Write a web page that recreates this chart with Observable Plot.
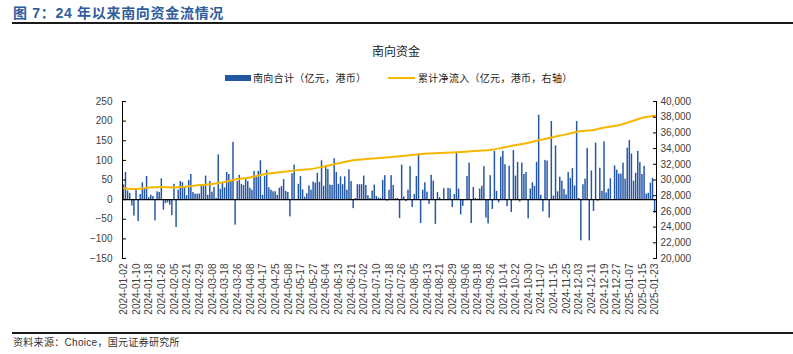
<!DOCTYPE html>
<html>
<head>
<meta charset="utf-8">
<script src="https://cdn.jsdelivr.net/npm/d3@7"></script>
<script src="https://cdn.jsdelivr.net/npm/@observablehq/plot@0.6"></script>
<style>
  body { margin: 0; background: #fff; }
  #wrap { position: relative; width: 793px; height: 354px; overflow: hidden; background: #fff;
          font-family: "Liberation Sans", Arial, "Noto Sans CJK SC", sans-serif; }
  .abs { position: absolute; white-space: nowrap; }
  #title { left: 13px; top: 4px; font: bold 14px "Liberation Sans", "Noto Sans CJK SC", sans-serif; color: #2E5C9E; line-height: 18px; letter-spacing: 0.7px; }
  .hr { position: absolute; left: 12px; width: 781px; height: 2px; background: #1a1a1a; }
  #ctitle { left: 372px; top: 43px; font: 12px "Noto Sans CJK SC", sans-serif; color: #222; line-height: 16px; }
  .leg { top: 71px; font: 10px "Noto Sans CJK SC", sans-serif; color: #222; line-height: 14px; letter-spacing: 0.3px; }
  #caption { left: 13px; top: 336px; font: 10px "Liberation Sans", "Noto Sans CJK SC", sans-serif; color: #333; line-height: 14px; letter-spacing: 0.3px; }
  #chart { position: absolute; left: 0; top: 88px; }
</style>
</head>
<body>
<div id="wrap">
  <div id="title" class="abs">图 7：24 年以来南向资金流情况</div>
  <div class="hr" style="top:22px"></div>
  <div id="ctitle" class="abs">南向资金</div>
  <div class="abs" style="left:225px;top:75px;width:26px;height:6px;background:#2456A6"></div>
  <div class="abs leg" style="left:253px">南向合计（亿元，港币）</div>
  <div class="abs" style="left:388px;top:77px;width:27px;height:2px;background:#F5B700"></div>
  <div class="abs leg" style="left:418px">累计净流入（亿元，港币，右轴）</div>
  <div id="chart"></div>
  <div class="hr" style="top:332px"></div>
  <div id="caption" class="abs">资料来源：Choice，国元证券研究所</div>
</div>
<script>
// Daily southbound net flow (100m HKD), one value per trading day, 2024-01-02 .. 2025-01-23
const netFlow = [
  38,69,22,16,-16,-42,27,-56,13,43,
  29,59,5,11,8,-54,20,18,53,-27,
  -10,-8,-14,-41,39,-71,24,46,43,30,
  10,49,64,18,14,14,14,34,34,60,
  11,46,19,31,3,114,26,41,30,69,
  64,49,146,-65,46,62,39,36,52,46,
  29,24,72,59,72,99,11,59,74,30,
  24,20,20,11,29,33,51,21,18,-44,
  66,88,-2,39,59,25,6,15,35,24,
  45,42,67,44,99,34,87,77,37,36,
  104,69,39,58,38,58,24,76,46,-23,
  3,38,38,38,60,36,10,3,22,37,
  8,4,
  3,49,61,-4,24,61,36,2,3,-48,
  88,7,-5,24,84,-20,13,59,116,-61,
  24,43,19,-12,62,47,-63,18,5,-2,
  28,-2,29,27,-20,13,120,27,-39,-17,
  0,59,93,-61,31,3,1,27,34,84,
  -47,-62,61,-25,123,21,-8,108,123,89,
  -18,85,-33,125,60,95,-6,93,64,69,
  -49,27,43,34,95,215,
  11,-31,100,98,-47,199,9,137,20,57,
  47,26,12,69,54,79,35,199,3,-105,
  38,52,130,-105,73,-30,144,-4,80,21,
  147,17,27,53,0,86,75,65,65,93,
  52,131,151,116,47,67,123,94,64,85,
  14,16,42,54,-35
];

// Category-axis labels (every 6th trading day)
const tickLabels = ["2024-01-02","2024-01-10","2024-01-18","2024-01-26","2024-02-05","2024-02-21","2024-02-29","2024-03-08","2024-03-18","2024-03-26","2024-04-08","2024-04-17","2024-04-25","2024-05-08","2024-05-17","2024-05-27","2024-06-04","2024-06-13","2024-06-21","2024-07-02","2024-07-10","2024-07-18","2024-07-26","2024-08-05","2024-08-13","2024-08-21","2024-08-29","2024-09-06","2024-09-18","2024-09-26","2024-10-14","2024-10-22","2024-10-30","2024-11-07","2024-11-15","2024-11-25","2024-12-03","2024-12-11","2024-12-19","2024-12-27","2025-01-07","2025-01-15","2025-01-23"];
const labelEvery = 6;

// Cumulative net inflow (right axis), read at each labelled date
const cumInflow = [28960,28850,29050,29100,29050,29180,29350,29500,29750,30120,30330,30700,30930,31120,31300,31450,31790,32130,32480,32640,32785,32900,33050,33210,33375,33440,33510,33610,33740,33830,34150,34450,34740,35140,35490,35810,36200,36350,36680,36930,37400,37930,38190];

const leftTicks = [-150,-100,-50,0,50,100,150,200,250];
const rightTicks = [20000,22000,24000,26000,28000,30000,32000,34000,36000,38000,40000];

const yDom = [-150, 250];
const rDom = [20000, 40000];
const toLeft = v => yDom[0] + (v - rDom[0]) / (rDom[1] - rDom[0]) * (yDom[1] - yDom[0]);
const toRight = y => rDom[0] + (y - yDom[0]) / (yDom[1] - yDom[0]) * (rDom[1] - rDom[0]);

const bars = netFlow.map((v, i) => ({i, v}));
const line = cumInflow.map((v, k) => ({i: k * labelEvery, y: toLeft(v)}));
const fmt = d3.format(",");

const chart = Plot.plot({
  width: 793,
  height: 240,
  marginLeft: 122,
  marginRight: 137,
  marginTop: 13,
  marginBottom: 70,
  x: {type: "band", domain: d3.range(netFlow.length), padding: 0.3, round: false, axis: null, label: null},
  y: {domain: yDom, axis: null, label: null},
  style: {fontFamily: "Liberation Sans, Arial, sans-serif", fontSize: "10px", color: "#404040", background: "transparent"},
  marks: [
    Plot.barY(bars, {x: "i", y: "v", fill: "#2456A6"}),
    Plot.ruleY([0], {stroke: "#000", strokeWidth: 1.2}),
    Plot.line(line, {x: "i", y: "y", stroke: "#F5B700", strokeWidth: 2, curve: "monotone-x"}),
    Plot.frame({anchor: "left", stroke: "#000"}),
    Plot.frame({anchor: "right", stroke: "#000"}),
    Plot.axisY({anchor: "left", ticks: leftTicks, tickSize: -4, tickPadding: 14, stroke: "#000", label: null}),
    Plot.axisY({anchor: "right", ticks: rightTicks.map(toLeft), tickFormat: y => fmt(Math.round(toRight(y))), tickSize: -4, tickPadding: 8, stroke: "#000", label: null}),
    Plot.axisX({anchor: "bottom", ticks: d3.range(0, netFlow.length, labelEvery), tickFormat: i => tickLabels[i / labelEvery], tickRotate: -90, tickSize: 0, tickPadding: 5, label: null})
  ]
});
document.getElementById("chart").appendChild(chart);
</script>
</body>
</html>
